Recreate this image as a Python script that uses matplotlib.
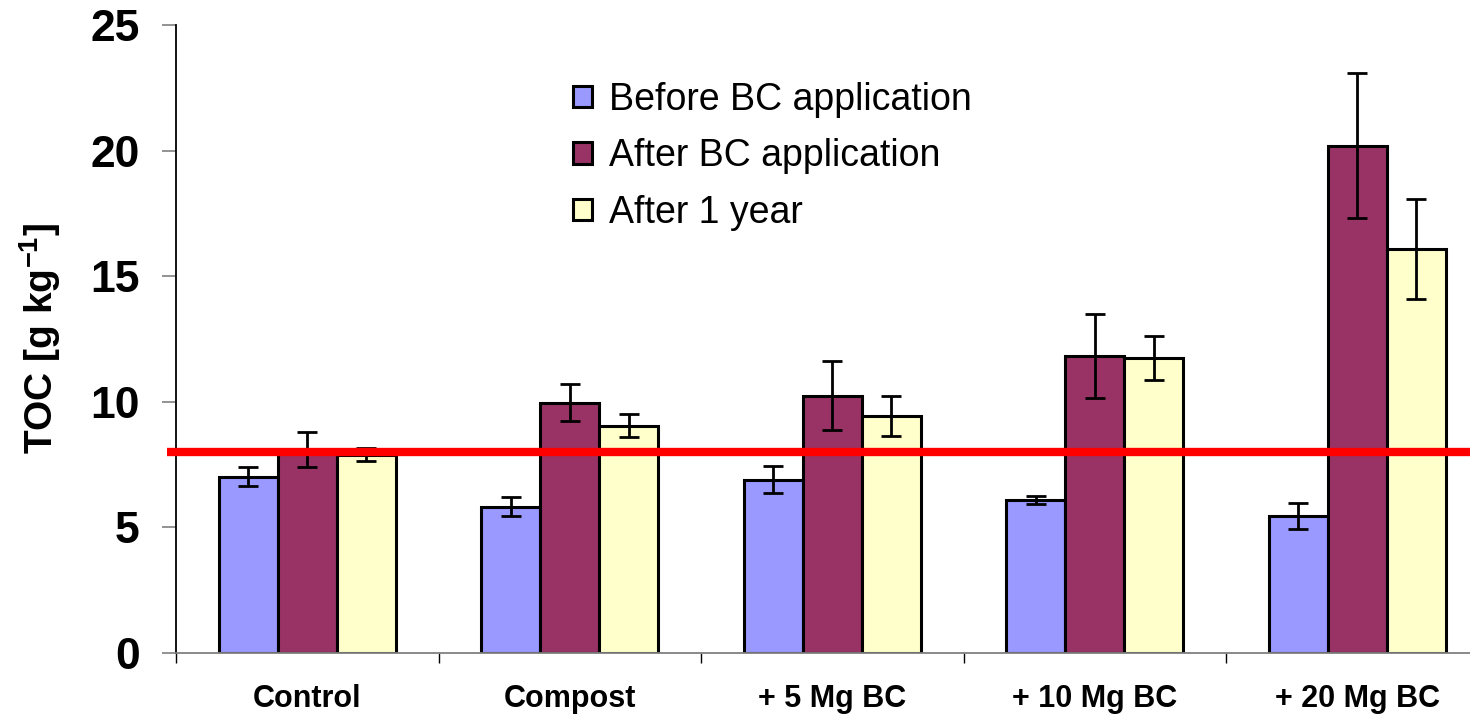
import matplotlib
matplotlib.use("Agg")
import matplotlib.pyplot as plt
import numpy as np

plt.rcParams['font.family'] = ['Liberation Sans', 'DejaVu Sans']
plt.rcParams['mathtext.fontset'] = 'custom'
plt.rcParams['mathtext.rm'] = 'Liberation Sans:bold'
plt.rcParams['mathtext.bf'] = 'Liberation Sans:bold'

treatments = ['Control', 'Compost', '+ 5 Mg BC', '+ 10 Mg BC', '+ 20 Mg BC']
series = ['Before BC application', 'After BC application', 'After 1 year']

before = [7.02, 5.82, 6.90, 6.10, 5.45]
before_err = [0.39, 0.38, 0.53, 0.15, 0.52]
after = [8.10, 9.97, 10.25, 11.84, 20.2]
after_err = [0.71, 0.74, 1.38, 1.67, 2.9]
year1 = [7.90, 9.05, 9.45, 11.73, 16.08]
year1_err = [0.25, 0.46, 0.80, 0.88, 2.0]

threshold = 8.0

colors = ['#9999FF', '#993366', '#FFFFCC']

fig = plt.figure(figsize=(14.7, 7.15), dpi=100)
ax = fig.add_axes([176 / 1470, 62 / 715, 1312.5 / 1470, 628 / 715])

x = np.arange(len(treatments))
w = 0.225
for i, (vals, errs) in enumerate([(before, before_err), (after, after_err), (year1, year1_err)]):
    ax.bar(x + (i - 1) * w, vals, width=w, color=colors[i], edgecolor='black',
           linewidth=2.2, label=series[i], zorder=2)
    ax.errorbar(x + (i - 1) * w, vals, yerr=errs, fmt='none', ecolor='black',
                elinewidth=2.0, capsize=7, capthick=2.0, zorder=3)

ax.hlines(threshold, -0.535, 4.5, colors='#FF0000', linewidth=6, zorder=4, clip_on=False)

ax.set_xlim(-0.5, 4.5)
ax.set_ylim(0, 25)
ax.set_yticks([0, 5, 10, 15, 20, 25])
ax.tick_params(axis='y', direction='out', length=10, width=1.2, color='#808080',
               pad=16, labelsize=32)
for lab in ax.get_yticklabels():
    lab.set_fontweight('bold')

ax.set_xticks(np.arange(-0.5, 4.6, 1.0))
ax.set_xticklabels([])
ax.tick_params(axis='x', which='major', direction='out', length=7, width=1.0, color='black')
ax.set_xticks(x, minor=True)
ax.set_xticklabels(treatments, minor=True, fontsize=22, fontweight='bold')
ax.tick_params(axis='x', which='minor', length=0, pad=22)

ax.spines['top'].set_visible(False)
ax.spines['right'].set_visible(False)
ax.spines['left'].set_linewidth(1.3)
ax.spines['bottom'].set_color('#808080')
ax.spines['bottom'].set_linewidth(1.3)

ax.set_ylabel('TOC [g kg$^{-1}$]', fontsize=28, fontweight='bold', labelpad=20)

leg = ax.legend(loc='upper left', bbox_to_anchor=(0.3025, 0.91), frameon=False,
                fontsize=27, handlelength=0.5, handleheight=0.5, handletextpad=0.45,
                labelspacing=0.55, borderaxespad=0, borderpad=0)

fig.savefig('out.png', dpi=100)
